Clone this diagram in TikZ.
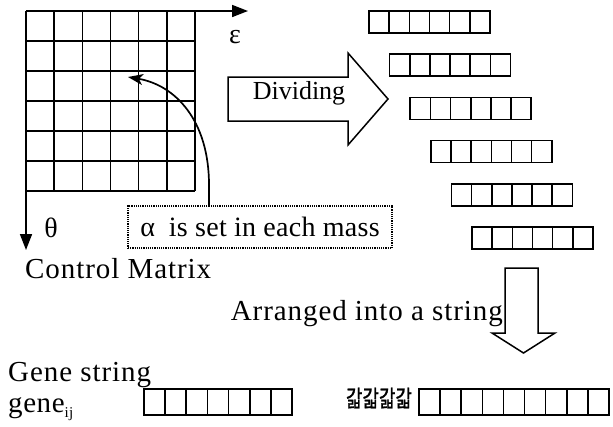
\documentclass[tikz,border=0pt]{standalone}
\usepackage{fontspec}
\setmainfont{Liberation Serif}
\newfontfamily\krfont{Noto Sans CJK KR}[FakeBold=1.2]
\usetikzlibrary{arrows.meta}
\begin{document}
\begin{tikzpicture}[x=1pt,y=-1pt,
  txt/.style={inner sep=0pt, font=\fontsize{29}{32}\selectfont},
  ln/.style={line width=1.6pt},
  axis/.style={line width=1.7pt,-{Triangle[length=16pt,width=12pt]}},
  blockarrow/.style={line width=1.5pt, line join=miter}]
\useasboundingbox (0,0) rectangle (613,426);
% control matrix grid
\foreach \i in {0,...,6} {
  \draw[ln] ({26+\i*28.17},11) -- ({26+\i*28.17},191);
  \draw[ln] (26,{11+\i*30}) -- (195,{11+\i*30});
}
\coordinate (O) at (26,11);
\coordinate (Ex) at (248,11);
\coordinate (Ty) at (26,250);
\draw[axis] (O) -- (Ex);
\draw[axis] (O) -- (Ty);
\node[txt, font=\fontsize{28}{30}\selectfont] (eps) at (235,37) {ε};
\node[txt, font=\fontsize{28}{30}\selectfont] (theta) at (51,228) {θ};
% dotted box
\node[txt, draw, densely dotted, line width=1.2pt, minimum width=264pt, minimum height=42pt, font=\fontsize{28}{30}\selectfont] (alpha) at (260,227)
  {\addfontfeature{LetterSpace=1}α\hspace{14pt}is set in each mass};
\coordinate (cs) at (209,206);
\coordinate (ct) at (128,77);
\draw[line width=1.7pt, -{Stealth[length=15pt,width=11pt,inset=4pt]}] (cs) -- (209,185) .. controls (209,120) and (175,85) .. (ct);
\node[txt, anchor=base west] (cm) at (25,278) {\addfontfeature{LetterSpace=3.2}Control Matrix};
% dividing arrow
\draw[blockarrow] (228,77) -- (348,77) -- (348,53) -- (388,99) -- (348,145) -- (348,121) -- (228,121) -- cycle;
\node[txt, anchor=base, font=\fontsize{26}{28}\selectfont] (div) at (299,99) {Dividing};
% divided strips
\foreach \k in {0,...,5} {
  \pgfmathsetmacro\xa{369+20.6*\k}
  \pgfmathsetmacro\ya{11+43.2*\k}
  \draw[ln] (\xa,\ya) rectangle ++(121,22);
  \foreach \c in {1,...,5} \draw[ln] ({\xa+\c*20.17},\ya) -- ++(0,22);
}
% down arrow
\draw[blockarrow] (505,268) -- (538,268) -- (538,333) -- (555,333) -- (523.5,353) -- (492,333) -- (505,333) -- cycle;
\node[txt, anchor=base east] (arr) at (503,320) {\addfontfeature{LetterSpace=3.2}Arranged into a string};
% gene string
\node[txt, anchor=base west] (gs) at (8,381) {\addfontfeature{LetterSpace=3.2}Gene string};
\node[txt, anchor=base west] (gij) at (8,412) {\addfontfeature{LetterSpace=2}gene\raisebox{-5pt}{\fontsize{15}{15}\selectfont ij}};
\draw[ln] (144,389) rectangle (292,415);
\foreach \c in {1,...,6} \draw[ln] ({144+\c*21.14},389) -- ++(0,26);
\draw[ln] (419,389) rectangle (609,415);
\foreach \c in {1,...,8} \draw[ln] ({419+\c*21.11},389) -- ++(0,26);
\node[inner sep=0pt, font=\krfont\fontsize{23}{23}\selectfont] (dots) at (379,398) {\scalebox{0.78}[1]{갋갋갋갋}};
\end{tikzpicture}
\end{document}
